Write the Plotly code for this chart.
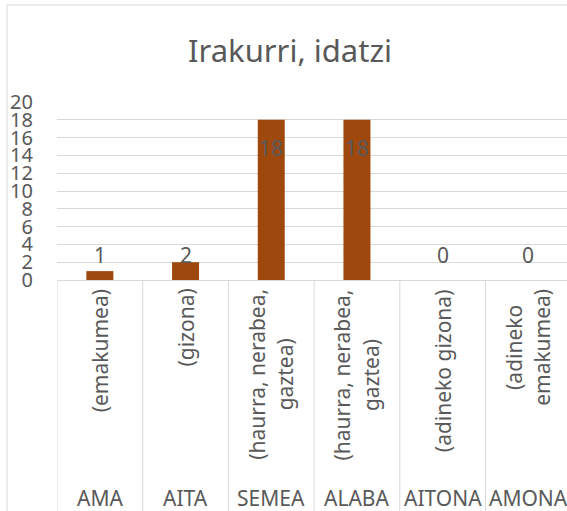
import plotly.graph_objects as go

# ---- data ----
groups = ["AMA", "AITA", "SEMEA", "ALABA", "AITONA", "AMONA"]
sublabels = [
    ["(emakumea)"],
    ["(gizona)"],
    ["(haurra, nerabea,", "gaztea)"],
    ["(haurra, nerabea,", "gaztea)"],
    ["(adineko gizona)"],
    ["(adineko", "emakumea)"],
]
values = [1, 2, 18, 18, 0, 0]
y_ticks = [0, 2, 4, 6, 8, 10, 12, 14, 16, 18, 20]
title_text = "Irakurri, idatzi"

# ---- style ----
W, H = 567, 511
ML, MT, MB, MR = 57, 102, 231, 0
PLOT_H = H - MT - MB
PLOT_W = W - ML - MR
TXT = "#595959"
GRID = "#D9D9D9"
BAR = "#9E480E"
FONT = "Noto Sans"

x_idx = list(range(len(groups)))

fig = go.Figure()
fig.add_trace(go.Bar(
    x=x_idx, y=values, width=0.315,
    marker=dict(color=BAR, line=dict(width=0)),
    hoverinfo="skip",
))

def px_to_paper_x(px):
    return (px - ML) / PLOT_W

def px_to_paper_y(py):
    return (H - MB - py) / PLOT_H

annotations = []
shapes = []

# data labels
for i, v in enumerate(values):
    if v >= 10:
        annotations.append(dict(x=i, y=v, xref="x", yref="y", text=str(v),
                                showarrow=False, yanchor="middle", yshift=-28,
                                font=dict(family=FONT, size=21, color=TXT)))
    else:
        annotations.append(dict(x=i, y=2, xref="x", yref="y", text=str(v),
                                showarrow=False, yanchor="middle", yshift=7,
                                font=dict(family=FONT, size=21, color=TXT)))

# rotated sub labels
for i, lines in enumerate(sublabels):
    txt = "<br>".join('<span style="font-size:21px">%s</span>' % l for l in lines)
    annotations.append(dict(x=i, y=0, xref="x", yref="paper", text=txt,
                            showarrow=False, textangle=-90, align="center",
                            xanchor="center", yanchor="top", yshift=-7,
                            font=dict(family=FONT, size=22, color=TXT)))

# group labels
for i, g in enumerate(groups):
    annotations.append(dict(x=i, y=px_to_paper_y(498), xref="x", yref="paper", text=g,
                            showarrow=False, xanchor="center", yanchor="middle",
                            font=dict(family=FONT, size=21, color=TXT)))

# category dividers below axis
for i in range(len(groups) + 1):
    shapes.append(dict(type="line", xref="x", yref="paper", x0=i - 0.5, x1=i - 0.5,
                       y0=0, y1=px_to_paper_y(H + 5), line=dict(color=GRID, width=1)))

# chart border (left and top)
shapes.append(dict(type="line", xref="paper", yref="paper",
                   x0=px_to_paper_x(7), x1=px_to_paper_x(7),
                   y0=px_to_paper_y(5), y1=px_to_paper_y(H + 5),
                   line=dict(color=GRID, width=1)))
shapes.append(dict(type="line", xref="paper", yref="paper",
                   x0=px_to_paper_x(7), x1=px_to_paper_x(W + 5),
                   y0=px_to_paper_y(5), y1=px_to_paper_y(5),
                   line=dict(color=GRID, width=1)))

fig.update_layout(
    width=W, height=H,
    margin=dict(l=ML, r=MR, t=MT, b=MB, pad=0),
    paper_bgcolor="white", plot_bgcolor="white",
    showlegend=False,
    title=dict(text=title_text, x=290 / W, xanchor="center",
               y=1 - 51 / H, yanchor="middle",
               font=dict(family=FONT, size=31, color=TXT)),
    xaxis=dict(range=[-0.5, -0.5 + (W - ML) / 85.7], showticklabels=False,
               showgrid=False, zeroline=False, showline=True, linecolor=GRID,
               linewidth=1, fixedrange=True),
    yaxis=dict(range=[0, 20], tickvals=y_ticks, showgrid=True, gridcolor=GRID,
               gridwidth=1, zeroline=False, showline=False,
               tickfont=dict(family=FONT, size=20, color=TXT),
               ticklabelstandoff=23, fixedrange=True),
    annotations=annotations,
    shapes=shapes,
    bargap=0.685,
)

fig.write_html(
    "out.html",
    config={"displayModeBar": False, "staticPlot": True},
    post_script="document.body.style.margin='0';document.body.style.overflow='hidden';",
)
